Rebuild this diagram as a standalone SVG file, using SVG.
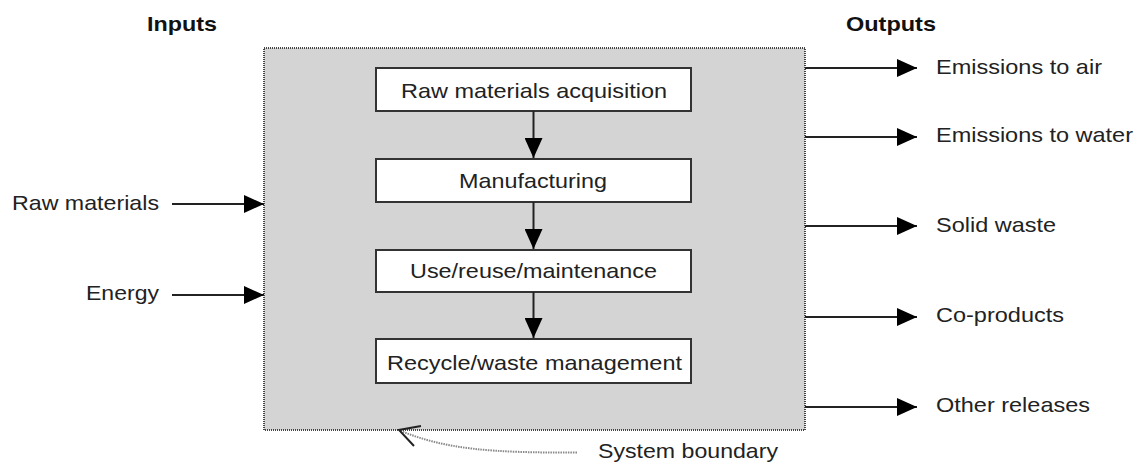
<svg xmlns="http://www.w3.org/2000/svg" width="1142" height="464" viewBox="0 0 1142 464">
<style>
text{font-family:"Liberation Sans",Arial,sans-serif;font-size:21px;fill:#222}
.b{font-weight:bold;fill:#111}
.box{fill:#fff;stroke:#333;stroke-width:2}
.ln{stroke:#222;stroke-width:2;fill:none}
.bd{fill:#d4d4d4;stroke:#444;stroke-width:2;stroke-dasharray:1 1}
</style>
<defs>
<marker id="ah" markerUnits="userSpaceOnUse" markerWidth="20" markerHeight="18" refX="20" refY="9" orient="auto">
<path d="M0,0 L20,9 L0,18 z" fill="#000"/>
</marker>
</defs>
<g id="boundary">
<rect class="bd" x="264" y="48" width="541" height="382"/>
</g>
<g id="labels">
<text class="b" x="147" y="31" textLength="70" lengthAdjust="spacingAndGlyphs">Inputs</text>
<text class="b" x="846" y="31" textLength="90" lengthAdjust="spacingAndGlyphs">Outputs</text>
</g>
<g id="in-raw"><text x="12" y="210" textLength="147" lengthAdjust="spacingAndGlyphs">Raw materials</text></g>
<g id="in-energy"><text x="86" y="300" textLength="73" lengthAdjust="spacingAndGlyphs">Energy</text></g>
<g id="n1"><rect class="box" x="376" y="68" width="315" height="43"/><text x="401" y="98" textLength="266" lengthAdjust="spacingAndGlyphs">Raw materials acquisition</text></g>
<g id="n2"><rect class="box" x="376" y="159" width="315" height="43"/><text x="459" y="188" textLength="148" lengthAdjust="spacingAndGlyphs">Manufacturing</text></g>
<g id="n3"><rect class="box" x="376" y="250" width="315" height="42"/><text x="410" y="278" textLength="247" lengthAdjust="spacingAndGlyphs">Use/reuse/maintenance</text></g>
<g id="n4"><rect class="box" x="376" y="339" width="315" height="44"/><text x="387" y="370" textLength="295" lengthAdjust="spacingAndGlyphs">Recycle/waste management</text></g>
<g id="out-air"><text x="936" y="74" textLength="166" lengthAdjust="spacingAndGlyphs">Emissions to air</text></g>
<g id="out-water"><text x="936" y="142" textLength="197" lengthAdjust="spacingAndGlyphs">Emissions to water</text></g>
<g id="out-solid"><text x="936" y="232" textLength="120" lengthAdjust="spacingAndGlyphs">Solid waste</text></g>
<g id="out-co"><text x="936" y="322" textLength="128" lengthAdjust="spacingAndGlyphs">Co-products</text></g>
<g id="out-other"><text x="936" y="412" textLength="154" lengthAdjust="spacingAndGlyphs">Other releases</text></g>
<g id="sys-label"><text x="598" y="458" textLength="180" lengthAdjust="spacingAndGlyphs">System boundary</text></g>
<g id="connectors">
<line class="ln" x1="533.5" y1="111" x2="533.5" y2="158" marker-end="url(#ah)"/>
<line class="ln" x1="533.5" y1="202" x2="533.5" y2="249" marker-end="url(#ah)"/>
<line class="ln" x1="533.5" y1="292" x2="533.5" y2="338" marker-end="url(#ah)"/>
<line class="ln" x1="172" y1="204" x2="264" y2="204" marker-end="url(#ah)"/>
<line class="ln" x1="172" y1="295" x2="264" y2="295" marker-end="url(#ah)"/>
<line class="ln" x1="805" y1="68" x2="917" y2="68" marker-end="url(#ah)"/>
<line class="ln" x1="805" y1="137" x2="917" y2="137" marker-end="url(#ah)"/>
<line class="ln" x1="805" y1="226" x2="917" y2="226" marker-end="url(#ah)"/>
<line class="ln" x1="805" y1="317" x2="917" y2="317" marker-end="url(#ah)"/>
<line class="ln" x1="805" y1="407" x2="917" y2="407" marker-end="url(#ah)"/>
<path d="M577,452.5 C490,453 445,449 401,431" fill="none" stroke="#888" stroke-width="2" stroke-dasharray="1.5 1"/>
<path d="M421,426 L399,430 L414,446" fill="none" stroke="#222" stroke-width="2"/>
</g>
</svg>
